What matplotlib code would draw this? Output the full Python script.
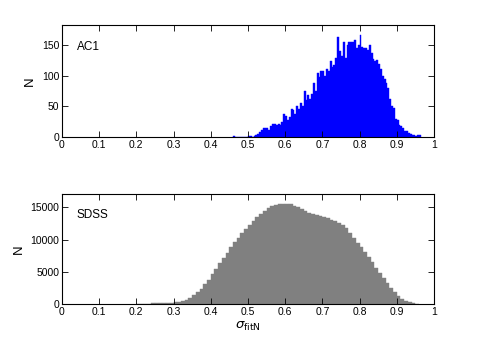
import matplotlib
matplotlib.use("Agg")
import matplotlib.pyplot as plt
import numpy as np

plt.rcParams['font.family'] = ['Liberation Sans Narrow', 'Liberation Sans', 'DejaVu Sans']

# ---- data ----
ac1_width = 0.005
ac1_left = [0.460, 0.465, 0.470, 0.475, 0.480, 0.485, 0.490, 0.495, 0.500, 0.505,
            0.510, 0.515, 0.520, 0.525, 0.530, 0.535, 0.540, 0.545, 0.550, 0.555,
            0.560, 0.565, 0.570, 0.575, 0.580, 0.585, 0.590, 0.595, 0.600, 0.605,
            0.610, 0.615, 0.620, 0.625, 0.630, 0.635, 0.640, 0.645, 0.650, 0.655,
            0.660, 0.665, 0.670, 0.675, 0.680, 0.685, 0.690, 0.695, 0.700, 0.705,
            0.710, 0.715, 0.720, 0.725, 0.730, 0.735, 0.740, 0.745, 0.750, 0.755,
            0.760, 0.765, 0.770, 0.775, 0.780, 0.785, 0.790, 0.795, 0.800, 0.805,
            0.810, 0.815, 0.820, 0.825, 0.830, 0.835, 0.840, 0.845, 0.850, 0.855,
            0.860, 0.865, 0.870, 0.875, 0.880, 0.885, 0.890, 0.895, 0.900, 0.905,
            0.910, 0.915, 0.920, 0.925, 0.930, 0.935, 0.940, 0.945, 0.950, 0.955,
            0.960]
ac1_counts = [2, 0, 0, 0, 0, 0, 0, 0, 1, 1,
              0, 2, 3, 5, 8, 12, 14, 15, 15, 12,
              18, 22, 22, 20, 22, 20, 25, 38, 35, 28,
              33, 45, 44, 38, 50, 45, 55, 50, 75, 60,
              68, 62, 70, 88, 75, 105, 98, 108, 108, 100,
              112, 108, 125, 115, 118, 130, 163, 140, 132, 155,
              130, 150, 155, 155, 155, 158, 145, 150, 167, 148,
              145, 146, 142, 150, 138, 128, 125, 126, 120, 112,
              100, 95, 88, 80, 62, 50, 48, 30, 28, 20,
              18, 15, 10, 9, 6, 5, 4, 3, 2, 3,
              4]

sdss_width = 0.01
sdss_left = [0.20, 0.21, 0.22, 0.23, 0.24, 0.25, 0.26, 0.27, 0.28, 0.29,
             0.30, 0.31, 0.32, 0.33, 0.34, 0.35, 0.36, 0.37, 0.38, 0.39,
             0.40, 0.41, 0.42, 0.43, 0.44, 0.45, 0.46, 0.47, 0.48, 0.49,
             0.50, 0.51, 0.52, 0.53, 0.54, 0.55, 0.56, 0.57, 0.58, 0.59,
             0.60, 0.61, 0.62, 0.63, 0.64, 0.65, 0.66, 0.67, 0.68, 0.69,
             0.70, 0.71, 0.72, 0.73, 0.74, 0.75, 0.76, 0.77, 0.78, 0.79,
             0.80, 0.81, 0.82, 0.83, 0.84, 0.85, 0.86, 0.87, 0.88, 0.89,
             0.90, 0.91, 0.92, 0.93, 0.94, 0.95]
sdss_counts = [60, 70, 80, 90, 100, 110, 120, 130, 140, 160,
               250, 330, 450, 620, 950, 1350, 1850, 2400, 3100, 3800,
               4600, 5400, 6300, 7200, 8000, 8800, 9600, 10300, 11000, 11700,
               12300, 12900, 13500, 14000, 14500, 14850, 15150, 15350, 15500, 15600,
               15600, 15450, 15250, 15000, 14750, 14400, 14100, 13950, 13800, 13650,
               13500, 13350, 13100, 12850, 12550, 12200, 11800, 11000, 10200, 9500,
               8800, 8100, 7300, 6500, 5600, 4800, 4000, 3200, 2500, 1800,
               1300, 850, 500, 250, 100, 30]

x_ticks = [0, 0.1, 0.2, 0.3, 0.4, 0.5, 0.6, 0.7, 0.8, 0.9, 1]
x_ticklabels = ["0", "0.1", "0.2", "0.3", "0.4", "0.5", "0.6", "0.7", "0.8", "0.9", "1"]
ac1_yticks = [0, 50, 100, 150]
sdss_yticks = [0, 5000, 10000, 15000]

# ---- figure ----
fig = plt.figure(figsize=(4.8, 3.54), dpi=100)
ax1 = fig.add_axes([0.129, 0.613, 0.775, 0.316])
ax2 = fig.add_axes([0.129, 0.141, 0.775, 0.311])

ax1.bar(ac1_left, ac1_counts, width=ac1_width, align='edge',
        color='#0000ff', edgecolor='#0000ff', linewidth=0.3)
ax2.bar(sdss_left, sdss_counts, width=sdss_width, align='edge',
        color='#808080', edgecolor='#808080', linewidth=0.3)

for ax, yt, ylim, lab in [(ax1, ac1_yticks, 183, "AC1"),
                          (ax2, sdss_yticks, 17080, "SDSS")]:
    ax.set_xlim(0, 1)
    ax.set_ylim(0, ylim)
    ax.set_xticks(x_ticks)
    ax.set_xticklabels(x_ticklabels)
    ax.set_yticks(yt)
    ax.set_yticklabels([str(v) for v in yt])
    ax.tick_params(direction='in', length=4, width=0.6, labelsize=7.5,
                   top=True, right=True, pad=2)
    for s in ax.spines.values():
        s.set_linewidth(0.8)
    ax.set_ylabel("N", fontsize=9.5, labelpad=4)
    ax.text(0.04, 0.78, lab, transform=ax.transAxes, fontsize=8.5)

ax2.set_xlabel(r"$\sigma_{\mathrm{fitN}}$", fontsize=9.5, labelpad=2)

fig.savefig("out.png", dpi=100)
